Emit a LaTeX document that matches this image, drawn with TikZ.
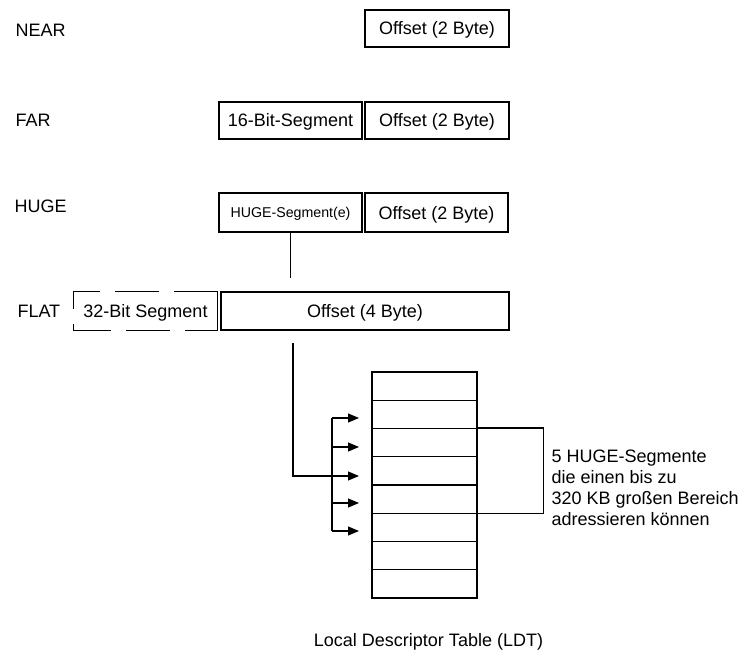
\documentclass[tikz,border=0pt]{standalone}
\usepackage{fontspec}
\setmainfont{Liberation Sans}
\usetikzlibrary{arrows.meta}

\begin{document}
\begin{tikzpicture}[x=1pt, y=-1pt, line width=1.1pt,
  txt/.style={font=\fontsize{18}{21}\selectfont},
  seg/.style={txt, draw, rectangle, inner sep=0pt, minimum height=37pt,
    text height=13pt, text depth=0pt},
  small/.style={font=\fontsize{14.2}{17}\selectfont, text height=10.2pt},
  kind/.style={txt, anchor=base west, inner sep=0pt},
  ldtrow/.style={draw, rectangle, inner sep=0pt, minimum width=105pt,
    minimum height=28.25pt},
  ptr/.style={-{Triangle[length=11pt,width=9pt]}}
]
\useasboundingbox (0,0) rectangle (746,652);

% pointer kinds
\node[kind] (lnear) at (15,37)  {NEAR};
\node[kind] (lfar)  at (15,127) {FAR};
\node[kind] (lhuge) at (14,213) {HUGE};
\node[kind] (lflat) at (17,317) {FLAT};

% NEAR
\node[seg, minimum width=144pt] (nearoff) at (437,28.5) {Offset (2 Byte)};

% FAR
\node[seg, minimum width=143pt] (farseg) at (290.5,120.5) {16-Bit-Segment};
\node[seg, minimum width=144pt] (faroff) at (437,120.5) {Offset (2 Byte)};

% HUGE
\node[seg, small, minimum width=143pt, minimum height=39pt] (hugeseg) at (290.5,212.5) {HUGE-Segment(e)};
\node[seg, minimum width=143pt, minimum height=39pt] (hugeoff) at (436.5,212.5) {Offset (2 Byte)};
\coordinate (hugeend) at (290.5,278);
\draw (hugeseg.south) -- (hugeend);

% FLAT
\node[seg, draw=none, minimum width=143pt, minimum height=38pt] (flatseg) at (145.5,311) {32-Bit Segment};
\draw[dash pattern=on 44pt off 15pt] (flatseg.north east) -- (flatseg.north west)
  -- (flatseg.south west) -- (flatseg.south east);
\draw (flatseg.south east) -- (flatseg.north east);
\node[seg, minimum width=288pt, minimum height=38pt] (flatoff) at (365,311) {Offset (4 Byte)};

% Local Descriptor Table
\foreach \i in {0,...,7}
  \node[ldtrow] (r\i) at (424.5,{386.125+28.25*\i}) {};

% selector arrows into the table
\coordinate (flatstart) at (293,343);
\coordinate (flatbend)  at (293,476);
\coordinate (bus1) at (332,418);
\coordinate (bus2) at (332,447);
\coordinate (bus4) at (332,503);
\coordinate (bus5) at (332,531);
\coordinate (tip1) at (359,418);
\coordinate (tip2) at (359,447);
\coordinate (tip3) at (359,476);
\coordinate (tip4) at (359,503);
\coordinate (tip5) at (359,531);
\draw (bus1) -- (bus5);
\draw[ptr] (flatstart) -- (flatbend) -- (tip3);
\draw[ptr] (bus1) -- (tip1);
\draw[ptr] (bus2) -- (tip2);
\draw[ptr] (bus4) -- (tip4);
\draw[ptr] (bus5) -- (tip5);

% bracket and note
\draw (r2.north east) -- ++(66,0) |- (r4.south east);
\node[txt, anchor=north west, inner sep=0pt, align=left] (note) at (551,449)
  {5 HUGE-Segmente\\die einen bis zu\\320 KB großen Bereich\\adressieren können};

\node[txt, anchor=base, inner sep=0pt] (caption) at (428.5,646) {Local Descriptor Table (LDT)};
\end{tikzpicture}
\end{document}
